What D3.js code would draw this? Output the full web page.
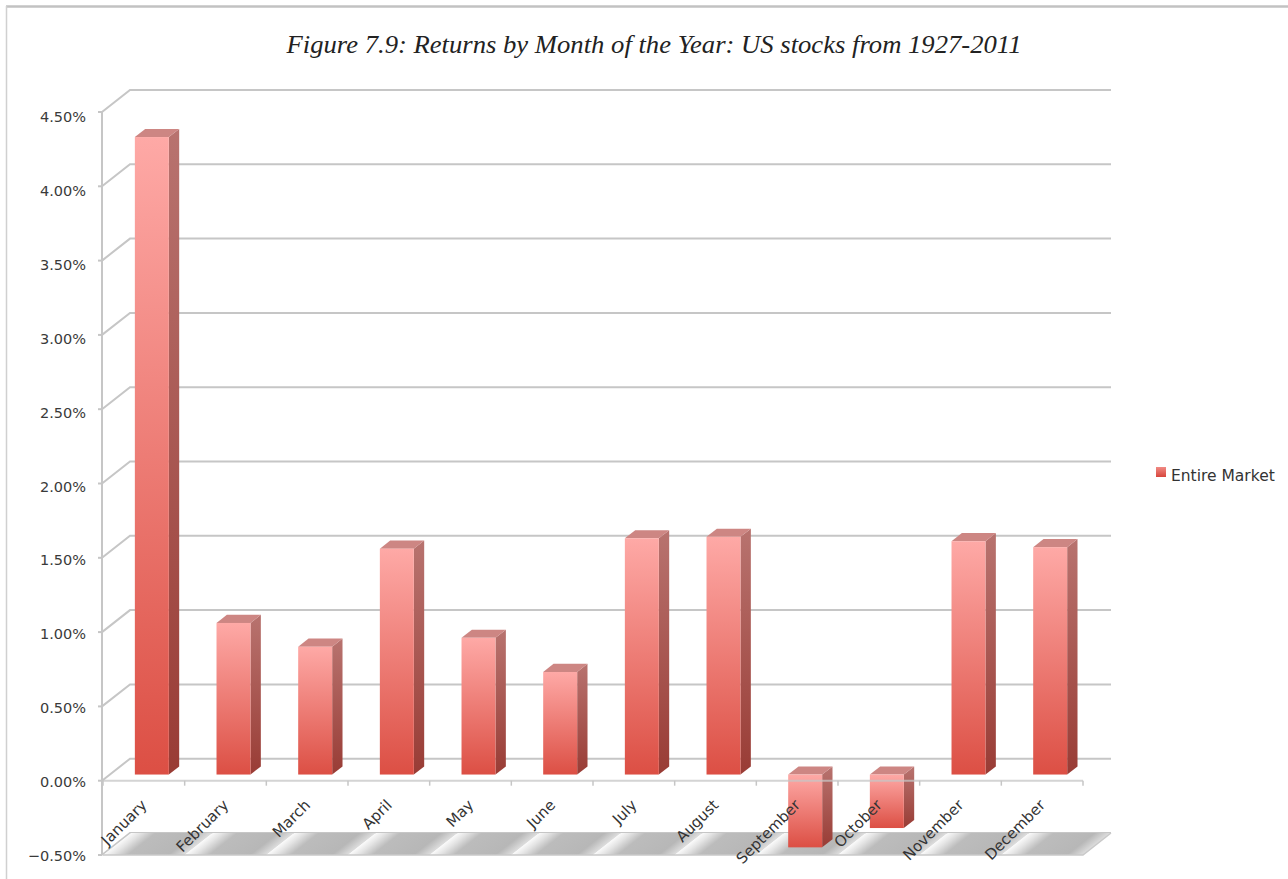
<!DOCTYPE html>
<html>
<head>
<meta charset="utf-8">
<script src="https://cdn.jsdelivr.net/npm/d3@7"></script>
<style>
  html, body { margin: 0; padding: 0; background: #fff; }
  svg { display: block; }
</style>
</head>
<body>
<svg id="chart" width="1288" height="879"></svg>
<script>
// ---- data ----
const title = "Figure 7.9: Returns by Month of the Year: US stocks from 1927-2011";
const seriesName = "Entire Market";
const months = ["January", "February", "March", "April", "May", "June",
                "July", "August", "September", "October", "November", "December"];
const returns = [4.29, 1.02, 0.86, 1.52, 0.92, 0.69, 1.59, 1.60, -0.49, -0.36, 1.57, 1.53]; // percent
const yTicks = [-0.5, 0, 0.5, 1.0, 1.5, 2.0, 2.5, 3.0, 3.5, 4.0, 4.5];

// ---- layout ----
const svg = d3.select("#chart");
const W = 1288, H = 879;
const DX = 28, DY = -22;          // oblique depth vector of the 3D box
const Z0 = 0.28, Z1 = 0.65;       // depth slab occupied by the columns

const x = d3.scaleBand().domain(months).range([103, 1083]).padding(0);
const y = d3.scaleLinear().domain([-0.5, 4.5]).range([855, 112]);
const yLab = d3.scaleLinear().domain([-0.5, 4.5]).range([856, 117]);
const step = x.step();
const proj = (px, v, z) => [px + DX * z, y(v) + DY * z];
const pct = d => d3.format(".2f")(d) + "%";

// ---- gradients ----
const defs = svg.append("defs");
function vGrad(id, top, bottom) {
  const g = defs.append("linearGradient").attr("id", id)
    .attr("x1", 0).attr("y1", 0).attr("x2", 0).attr("y2", 1);
  g.append("stop").attr("offset", "0%").attr("stop-color", top);
  g.append("stop").attr("offset", "100%").attr("stop-color", bottom);
}
vGrad("gFront", "#fea9a6", "#dc4f44");
vGrad("gSide", "#b8736f", "#993c35");
vGrad("gLegend", "#f08a84", "#d7463c");

const fg = defs.append("linearGradient").attr("id", "gFloor")
  .attr("x1", 0).attr("y1", 0).attr("x2", 1).attr("y2", 0);
[["0%", "#fafafa"], ["12%", "#e4e4e4"], ["30%", "#bcbcbc"], ["80%", "#b7b7b7"], ["100%", "#dedede"]]
  .forEach(([o, c]) => fg.append("stop").attr("offset", o).attr("stop-color", c));

// ---- frame ----
svg.append("line").attr("x1", 6).attr("x2", W).attr("y1", 6.5).attr("y2", 6.5)
  .attr("stroke", "#c2c2c2").attr("stroke-width", 2.5);
svg.append("line").attr("x1", 6.5).attr("x2", 6.5).attr("y1", 6).attr("y2", H)
  .attr("stroke", "#d0d0d0").attr("stroke-width", 1.5);

// ---- title ----
svg.append("text")
  .attr("x", 654).attr("y", 53)
  .attr("text-anchor", "middle")
  .attr("font-family", "'Liberation Serif', 'Times New Roman', serif")
  .attr("font-style", "italic")
  .attr("font-size", 25)
  .attr("textLength", 735)
  .attr("lengthAdjust", "spacingAndGlyphs")
  .attr("fill", "#222")
  .text(title);

const GRID = "#c6c6c6";
const left = 102, right = x.range()[1];

// ---- back wall gridlines ----
svg.append("g").selectAll("path").data(yTicks).join("path")
  .attr("fill", "none").attr("stroke", GRID).attr("stroke-width", 2)
  .attr("d", v => `M${left},${y(v)} L${left + DX},${y(v) + DY} L${right + DX},${y(v) + DY}`);

// ---- floor ----
const floor = svg.append("g");
floor.selectAll("rect").data(months).join("rect")
  .attr("transform", m => `matrix(1,0,${DX},${DY},${x(m)},${y(-0.5)})`)
  .attr("x", 0).attr("y", 0).attr("width", step).attr("height", 1)
  .attr("fill", "url(#gFloor)");
floor.append("path").attr("fill", "none").attr("stroke", "#c9c9c9").attr("stroke-width", 1.5)
  .attr("d", `M${x.range()[0]},${y(-0.5)} L${right},${y(-0.5)} L${right + DX},${y(-0.5) + DY}`);

// ---- left value axis ----
svg.append("line").attr("x1", left).attr("x2", left).attr("y1", y(4.5)).attr("y2", y(-0.5))
  .attr("stroke", GRID).attr("stroke-width", 2);
svg.append("g").selectAll("line").data(yTicks).join("line")
  .attr("x1", left - 4).attr("x2", left).attr("y1", d => y(d)).attr("y2", d => y(d))
  .attr("stroke", GRID).attr("stroke-width", 2);
svg.append("g").selectAll("text").data(yTicks).join("text")
  .attr("x", 86).attr("y", d => yLab(d))
  .attr("text-anchor", "end").attr("dominant-baseline", "central")
  .attr("font-family", "'DejaVu Sans', Verdana, sans-serif").attr("font-size", 14.5)
  .attr("fill", "#3a3a3a")
  .text(pct);

// ---- columns ----
const bars = months.map((m, i) => ({ m, v: returns[i] }));
const col = svg.append("g").selectAll("g").data(bars).join("g");
const bx = d => x(d.m) + step * 0.294;
const bw = step * 0.416;
const poly = pts => "M" + pts.map(p => p.join(",")).join("L") + "Z";

col.append("path").attr("fill", "url(#gSide)")
  .attr("d", d => {
    const lo = Math.min(0, d.v), hi = Math.max(0, d.v), xr = bx(d) + bw;
    return poly([proj(xr, hi, Z0), proj(xr, hi, Z1), proj(xr, lo, Z1), proj(xr, lo, Z0)]);
  });
col.append("path").attr("fill", "#cd8683")
  .attr("d", d => {
    const hi = Math.max(0, d.v), xl = bx(d), xr = xl + bw;
    return poly([proj(xl, hi, Z0), proj(xl, hi, Z1), proj(xr, hi, Z1), proj(xr, hi, Z0)]);
  });
col.append("rect").attr("fill", "url(#gFront)")
  .attr("x", d => proj(bx(d), 0, Z0)[0])
  .attr("y", d => proj(0, Math.max(0, d.v), Z0)[1])
  .attr("width", bw)
  .attr("height", d => Math.abs(y(d.v) - y(0)));

// ---- category axis at zero ----
svg.append("line").attr("x1", x.range()[0]).attr("x2", right).attr("y1", y(0)).attr("y2", y(0))
  .attr("stroke", GRID).attr("stroke-width", 2).attr("opacity", 0.75);
const bounds = months.map(m => x(m)).concat([right]);
svg.append("g").selectAll("line").data(bounds).join("line")
  .attr("x1", d => d).attr("x2", d => d).attr("y1", y(0)).attr("y2", y(0) + 5)
  .attr("stroke", GRID).attr("stroke-width", 1.5);

svg.append("g").selectAll("text").data(months).join("text")
  .attr("transform", m => `translate(${x(m) + step / 2 + 4},806) rotate(-45)`)
  .attr("text-anchor", "end")
  .attr("font-family", "'DejaVu Sans', Verdana, sans-serif").attr("font-size", 15)
  .attr("fill", "#333")
  .text(m => m);

// ---- legend ----
svg.append("rect").attr("x", 1156).attr("y", 467).attr("width", 10).attr("height", 10)
  .attr("fill", "url(#gLegend)");
svg.append("text").attr("x", 1171).attr("y", 481)
  .attr("font-family", "'DejaVu Sans', Verdana, sans-serif").attr("font-size", 15.5)
  .attr("fill", "#333")
  .text(seriesName);
</script>
</body>
</html>
